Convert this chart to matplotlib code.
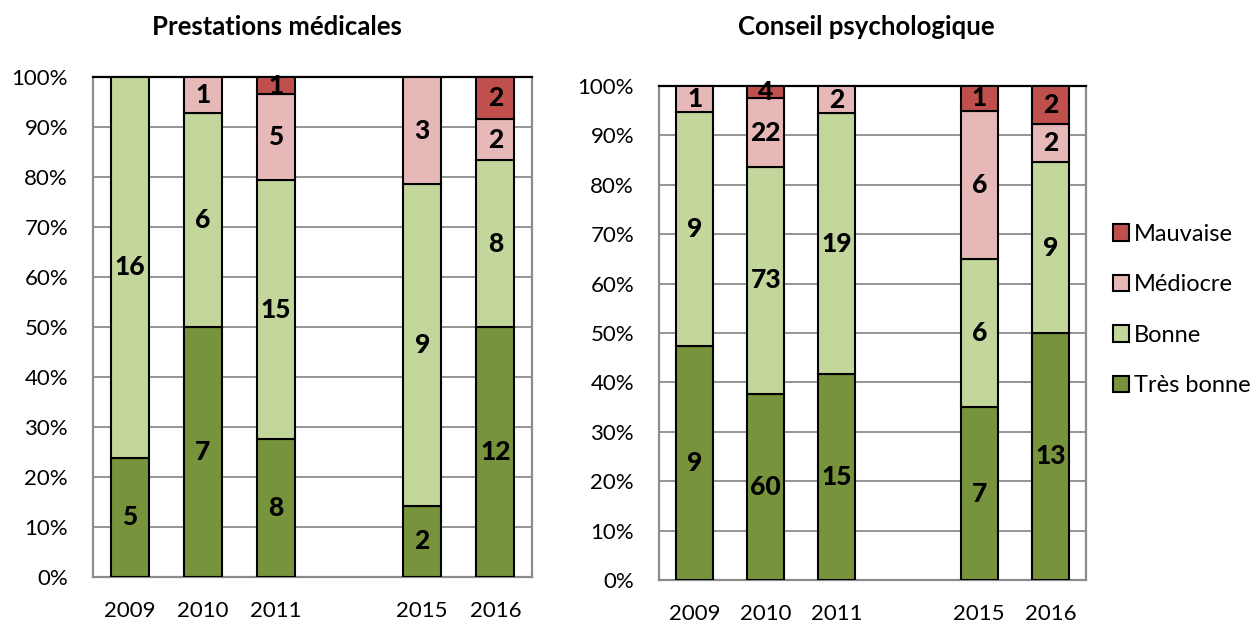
import matplotlib
matplotlib.use("Agg")
import matplotlib.pyplot as plt
from matplotlib.patches import Patch
import numpy as np

plt.rcParams['font.family'] = ['Lato', 'DejaVu Sans']

years = ["2009", "2010", "2011", "", "2015", "2016"]
levels = ["Très bonne", "Bonne", "Médiocre", "Mauvaise"]
colors = ["#77933C", "#C3D69B", "#E6B9B8", "#C0504D"]

# counts per level (Très bonne, Bonne, Médiocre, Mauvaise); empty slot between 2011 and 2015
medical_tres_bonne = [5, 7, 8, 0, 2, 12]
medical_bonne = [16, 6, 15, 0, 9, 8]
medical_mediocre = [0, 1, 5, 0, 3, 2]
medical_mauvaise = [0, 0, 1, 0, 0, 2]

psy_tres_bonne = [9, 60, 15, 0, 7, 13]
psy_bonne = [9, 73, 19, 0, 6, 9]
psy_mediocre = [1, 22, 2, 0, 6, 2]
psy_mauvaise = [0, 4, 0, 0, 1, 2]

fig = plt.figure(figsize=(12.56, 6.23), dpi=100)
W, H = 1256, 623


def panel(rect, series, title, title_xy):
    ax = fig.add_axes(rect)
    data = np.array(series, dtype=float)
    totals = data.sum(axis=0)
    x = np.arange(len(years))
    bottom = np.zeros(len(years))
    for vals, col in zip(data, colors):
        share = np.where(totals > 0, vals / np.where(totals > 0, totals, 1), 0)
        keep = vals > 0
        ax.bar(x[keep], share[keep], width=0.52, bottom=bottom[keep], color=col,
               edgecolor="black", linewidth=1.5, zorder=3)
        for xi, v, s, b in zip(x, vals, share, bottom):
            if v > 0:
                ax.text(xi, b + s / 2, f"{int(v)}", ha="center", va="center",
                        fontsize=19, fontweight="black", zorder=4)
        bottom = bottom + share
    ax.set_xlim(-0.5, len(years) - 0.5)
    ax.set_ylim(0, 1)
    ticks = np.arange(0, 1.01, 0.1)
    ax.set_yticks(ticks)
    ax.set_yticklabels([f"{int(round(t * 100))}%" for t in ticks], fontsize=16)
    ax.set_xticks(x)
    ax.set_xticklabels(years, fontsize=16)
    ax.tick_params(axis="both", length=0)
    ax.tick_params(axis="y", pad=18)
    ax.tick_params(axis="x", pad=17)
    ax.grid(axis="y", color="#8C8C8C", linewidth=1.3, zorder=0)
    ax.set_axisbelow(True)
    for side in ["left", "bottom", "right"]:
        ax.spines[side].set_color("#8C8C8C")
        ax.spines[side].set_linewidth(1.6)
    ax.spines["top"].set_color("black")
    ax.spines["top"].set_linewidth(1.6)
    fig.text(title_xy[0] / W, 1 - title_xy[1] / H, title, ha="center", va="center",
             fontsize=18.5, fontweight="bold")
    return ax


panel([93 / W, 1 - 577 / H, (532 - 93) / W, 500 / H],
      [medical_tres_bonne, medical_bonne, medical_mediocre, medical_mauvaise],
      "Prestations médicales", (277, 27))
panel([659 / W, 1 - 580 / H, (1086 - 659) / W, 494 / H],
      [psy_tres_bonne, psy_bonne, psy_mediocre, psy_mauvaise],
      "Conseil psychologique", (866, 27))

handles = [Patch(facecolor=c, edgecolor="black", linewidth=1.5, label=l)
           for c, l in zip(colors, levels)][::-1]
fig.legend(handles=handles, loc="center left", bbox_to_anchor=(1113 / W, 1 - 310 / H),
           frameon=False, fontsize=17, handlelength=0.68, handleheight=0.68,
           handletextpad=0.22, labelspacing=1.25, borderaxespad=0, borderpad=0)

fig.savefig("out.png", dpi=100)
